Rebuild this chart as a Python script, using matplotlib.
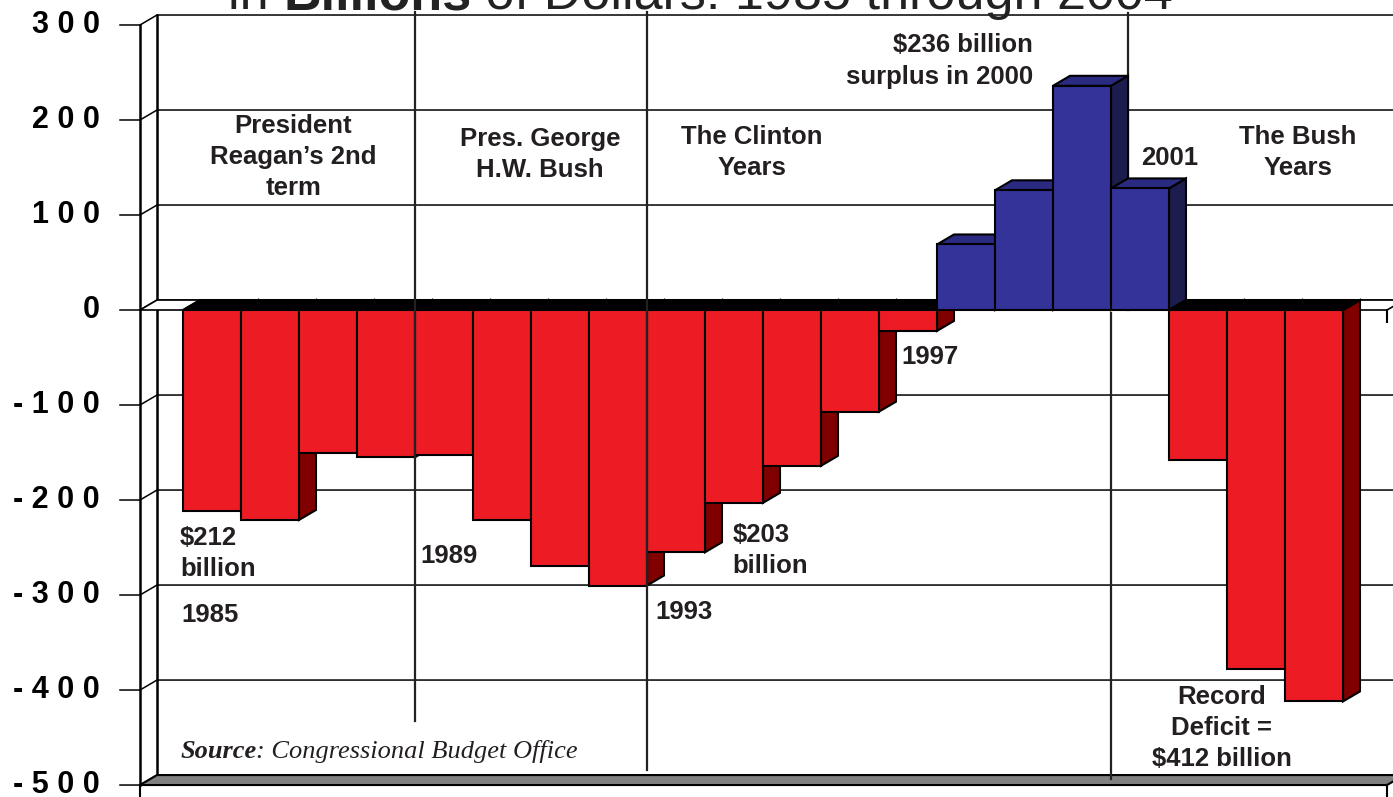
import matplotlib.pyplot as plt
from matplotlib.patches import Polygon

# budget surplus (+) / deficit (-) in billions of dollars
years = list(range(1985, 2005))
balance = [-212, -221, -150, -155, -153, -221, -269, -290, -255, -203,
           -164, -107, -22, 69, 126, 236, 128, -158, -378, -412]
y_ticks = [300, 200, 100, 0, -100, -200, -300, -400, -500]
y_labels = ['3 0 0', '2 0 0', '1 0 0', '0', '- 1 0 0', '- 2 0 0',
            '- 3 0 0', '- 4 0 0', '- 5 0 0']

RED, RED_SIDE, RED_TOP = '#ED1C24', '#800000', '#000000'
BLUE, BLUE_SIDE, BLUE_TOP = '#333399', '#1C1C4E', '#2A2A80'
TXT = '#231F20'
SANS = 'Liberation Sans'
SERIF = 'Liberation Serif'

fig = plt.figure(figsize=(13.93, 7.97), dpi=100)
ax = fig.add_axes([0, 0, 1, 1])
ax.set_xlim(-3.155, 20.862)
ax.set_ylim(-512.6, 326.3)
ax.axis('off')

DX, DY = 0.293, 10.5      # depth of the 3d effect
x0, x1 = -0.741, 20.76    # front edge of the floor
ymin, ymax = y_ticks[-1], y_ticks[0]
n = len(balance)


def quad(pts, fc, z, lw=1.5, ec='black'):
    ax.add_patch(Polygon(pts, closed=True, fc=fc, ec=ec, lw=lw,
                         zorder=z, joinstyle='miter'))


# walls and gridlines
ax.plot([x0, x0], [ymin, ymax], color='black', lw=1.8, zorder=2)
ax.plot([x0 + DX, x0 + DX], [ymin + DY, ymax + DY], color='black', lw=1.8, zorder=2)
for v, lab in zip(y_ticks, y_labels):
    ax.plot([x0 - 0.345, x0, x0 + DX, 21.5], [v, v, v + DY, v + DY],
            color='black', lw=1.1, zorder=1)
    ax.text(-1.43, v, lab, ha='right', va='center', fontsize=22,
            fontweight='bold', family=SANS, color='black')

# bottom floor
quad([(x0, ymin), (x1, ymin), (x1 + DX, ymin + DY), (x0 + DX, ymin + DY)],
     '#808080', 2)
ax.plot([x0, x0], [ymin, ymin - 20], color='black', lw=1.5, zorder=2)
ax.plot([x1, x1], [ymin, ymin - 20], color='black', lw=1.5, zorder=2)
# floor at zero
quad([(x0, 0), (x1, 0), (x1 + DX, DY), (x0 + DX, DY)], 'white', 2, lw=1.2)
ax.plot([x1, x1], [0, -12.6], color='black', lw=1.5, zorder=2)

# back part of the 2001 divider
ax.plot([16 + DX, 16 + DX], [0, ymax + DY + 2], color='#222222', lw=1.6, zorder=2.5)

# bars, left to right so each bar hides the side of the previous one
for i, v in enumerate(balance):
    z = 3 + i * 0.1
    if v >= 0:
        front, side, top = BLUE, BLUE_SIDE, BLUE_TOP
    else:
        front, side, top = RED, RED_SIDE, RED_TOP
    tv = max(v, 0)
    quad([(i + 1, 0), (i + 1 + DX, DY), (i + 1 + DX, v + DY), (i + 1, v)], side, z)
    quad([(i, tv), (i + 1, tv), (i + 1 + DX, tv + DY), (i + DX, tv + DY)], top, z)
    quad([(i, 0), (i + 1, 0), (i + 1, v), (i, v)], front, z)

# solid dark top strip over each run of deficit bars
runs = []
for i, v in enumerate(balance):
    if v < 0:
        if runs and runs[-1][1] == i:
            runs[-1][1] = i + 1
        else:
            runs.append([i, i + 1])
for a, b in runs:
    if b < n and balance[b] >= 0:
        pts = [(a, 0), (b, 0), (b, DY), (a + DX, DY)]   # next bar hides the rest
    else:
        pts = [(a, 0), (b, 0), (b + DX, DY), (a + DX, DY)]
    quad(pts, RED_TOP, 9, lw=1.2)

# era dividers in front
ax.plot([4, 4], [ymax + DY + 3, -433], color='#222222', lw=1.6, zorder=10)
ax.plot([8, 8], [ymax + DY + 3, -484], color='#222222', lw=1.6, zorder=10)
ax.plot([16, 16], [-3, -494], color='#222222', lw=1.6, zorder=10)

# annotations
notes = [
    (1.9, 161, "President\nReagan\u2019s 2nd\nterm", 'center'),
    (6.16, 164, "Pres. George\nH.W. Bush", 'center'),
    (9.81, 166, "The Clinton\nYears", 'center'),
    (14.66, 262, "$236 billion\nsurplus in 2000", 'right'),
    (17.02, 160, "2001", 'center'),
    (19.22, 166, "The Bush\nYears", 'center'),
    (12.88, -49.5, "1997", 'center'),
    (-0.05, -256, "$212\nbillion", 'left'),
    (-0.02, -321, "1985", 'left'),
    (4.09, -259, "1989", 'left'),
    (9.48, -253, "$203\nbillion", 'left'),
    (8.14, -318, "1993", 'left'),
    (17.91, -440, "Record\nDeficit =\n$412 billion", 'center'),
]
for x, y, s, ha in notes:
    ax.text(x, y, s, ha=ha, va='center', multialignment=ha,
            fontsize=18.5, fontweight='bold', family=SANS, color=TXT,
            linespacing=1.38, zorder=12)

fig.canvas.draw()
rend = fig.canvas.get_renderer()
W = fig.bbox.width


def run_text(x, y, parts, transform, **kw):
    # draw text pieces one after another on the same baseline
    for s, weight, style in parts:
        t = fig.text(x, y, s, fontweight=weight, style=style, ha='left',
                     va='baseline', transform=transform, **kw)
        x += t.get_window_extent(rend).width / W


# source note
ys = ax.transData.transform((0, -472))[1] / fig.bbox.height
xs = ax.transData.transform((-0.05, 0))[0] / W
run_text(xs, ys, [("Source", 'bold', 'italic'),
                  (": Congressional Budget Office", 'normal', 'italic')],
         fig.transFigure, fontsize=19, family=SERIF, color=TXT, zorder=12)

# title, mostly cut off at the top
run_text(228 / W, 1 - 9 / fig.bbox.height,
         [("in ", 'normal', 'normal'), ("Billions", 'bold', 'normal'),
          (" of Dollars: 1985 through 2004", 'normal', 'normal')],
         fig.transFigure, fontsize=37.5, family=SANS, color='#222222')

fig.savefig('out.png', dpi=100)
